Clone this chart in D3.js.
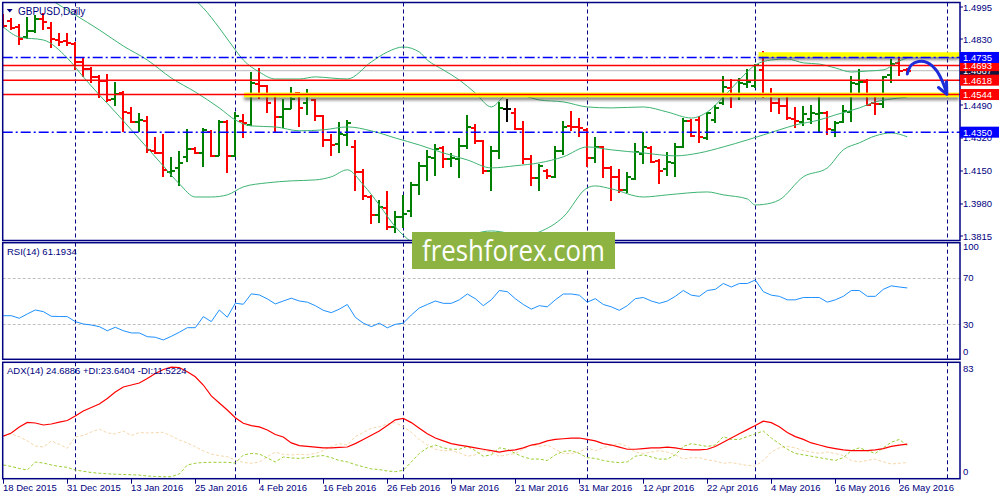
<!DOCTYPE html>
<html><head><meta charset="utf-8">
<script src="https://cdn.jsdelivr.net/npm/d3@7"></script>
<style>
html,body{margin:0;padding:0;background:#fff;}
svg{display:block;font-family:"Liberation Sans",Arial,sans-serif;}
</style></head><body>
<svg id="c" width="1000" height="500"></svg>
<script>
// ---------- DATA ----------
const symbolTitle = "GBPUSD,Daily";
const opens = [1.4928,1.4923,1.4892,1.4840,1.4871,1.4933,1.4887,1.4825,1.4820,1.4804,
1.4712,1.4676,1.4635,1.4614,1.4521,1.4552,1.4449,1.4403,1.4408,1.4254,
1.4243,1.4146,1.4166,1.4223,1.4264,1.4243,1.4351,1.4228,1.4403,1.4228,
1.4408,1.4387,1.4598,1.4588,1.4542,1.4429,1.4470,1.4552,1.4501,1.4516,
1.4434,1.4310,1.4290,1.4336,1.4274,1.4146,1.4016,1.3924,1.3960,1.3862,
1.3913,1.3944,1.4079,1.4177,1.4218,1.4269,1.4213,1.4213,1.4279,1.4372,
1.4305,1.4151,1.4254,1.4470,1.4449,1.4367,1.4213,1.4115,1.4151,1.4120,
1.4254,1.4382,1.4377,1.4362,1.4218,1.4274,1.4166,1.4120,1.4053,1.4110,
1.4238,1.4269,1.4202,1.4161,1.4192,1.4274,1.4408,1.4413,1.4320,1.4413,
1.4501,1.4578,1.4542,1.4598,1.4588,1.4671,1.4542,1.4501,1.4485,1.4418,
1.4403,1.4418,1.4444,1.4449,1.4362,1.4403,1.4454,1.4598,1.4609,1.4501,
1.4495,1.4645,1.4707,1.4671];
const highs = [1.4954,1.4938,1.4907,1.4943,1.4949,1.4964,1.4913,1.4856,1.4856,1.4810,
1.4732,1.4681,1.4640,1.4645,1.4604,1.4562,1.4475,1.4444,1.4429,1.4320,
1.4336,1.4218,1.4249,1.4362,1.4269,1.4367,1.4357,1.4408,1.4408,1.4449,
1.4439,1.4655,1.4676,1.4593,1.4547,1.4516,1.4578,1.4557,1.4568,1.4516,
1.4434,1.4336,1.4398,1.4408,1.4305,1.4156,1.4022,1.3996,1.4042,1.3939,
1.4022,1.4089,1.4192,1.4254,1.4284,1.4274,1.4238,1.4315,1.4434,1.4387,
1.4305,1.4274,1.4501,1.4516,1.4470,1.4403,1.4228,1.4182,1.4156,1.4274,
1.4403,1.4454,1.4423,1.4367,1.4320,1.4274,1.4171,1.4156,1.4141,1.4290,
1.4346,1.4274,1.4207,1.4243,1.4290,1.4418,1.4413,1.4429,1.4449,1.4490,
1.4635,1.4619,1.4624,1.4671,1.4701,1.4768,1.4573,1.4526,1.4542,1.4475,
1.4480,1.4485,1.4531,1.4454,1.4403,1.4490,1.4635,1.4671,1.4619,1.4542,
1.4635,1.4727,1.4743,1.4676];
const lows = [1.4887,1.4877,1.4804,1.4835,1.4866,1.4877,1.4784,1.4799,1.4799,1.4671,
1.4635,1.4604,1.4531,1.4506,1.4490,1.4351,1.4398,1.4351,1.4243,1.4238,
1.4120,1.4120,1.4073,1.4197,1.4238,1.4171,1.4223,1.4228,1.4141,1.4223,
1.4320,1.4382,1.4526,1.4449,1.4351,1.4372,1.4470,1.4377,1.4439,1.4408,
1.4274,1.4228,1.4243,1.4279,1.4047,1.4001,1.3877,1.3882,1.3847,1.3831,
1.3857,1.3913,1.4027,1.4099,1.4125,1.4166,1.4171,1.4115,1.4264,1.4290,
1.4135,1.4047,1.4213,1.4403,1.4362,1.4187,1.4073,1.4047,1.4110,1.4115,
1.4233,1.4357,1.4326,1.4171,1.4192,1.4115,1.3996,1.4037,1.4037,1.4104,
1.4187,1.4192,1.4084,1.4125,1.4120,1.4269,1.4326,1.4295,1.4310,1.4398,
1.4495,1.4475,1.4516,1.4578,1.4578,1.4531,1.4454,1.4444,1.4413,1.4372,
1.4382,1.4393,1.4346,1.4336,1.4326,1.4398,1.4403,1.4557,1.4485,1.4439,
1.4475,1.4604,1.4640,1.4660];
const closes = [1.4897,1.4887,1.4830,1.4871,1.4933,1.4918,1.4830,1.4815,1.4810,1.4712,
1.4676,1.4635,1.4614,1.4516,1.4547,1.4454,1.4403,1.4413,1.4259,1.4243,
1.4156,1.4151,1.4192,1.4264,1.4243,1.4362,1.4228,1.4403,1.4228,1.4434,
1.4398,1.4604,1.4588,1.4501,1.4429,1.4470,1.4521,1.4475,1.4547,1.4434,
1.4310,1.4284,1.4341,1.4398,1.4146,1.4022,1.3924,1.3965,1.3862,1.3913,
1.3929,1.4079,1.4177,1.4223,1.4264,1.4213,1.4218,1.4279,1.4377,1.4305,
1.4151,1.4254,1.4475,1.4470,1.4367,1.4213,1.4115,1.4177,1.4125,1.4254,
1.4377,1.4377,1.4372,1.4218,1.4274,1.4166,1.4120,1.4053,1.4120,1.4249,
1.4274,1.4197,1.4151,1.4197,1.4274,1.4408,1.4331,1.4326,1.4449,1.4475,
1.4583,1.4542,1.4604,1.4609,1.4696,1.4537,1.4501,1.4485,1.4423,1.4408,
1.4444,1.4449,1.4449,1.4367,1.4398,1.4459,1.4604,1.4609,1.4490,1.4495,
1.4635,1.4701,1.4665,1.4667];

// Bollinger bands: [bar index, price]
const bbUpper = [[22,1.5134],[24,1.5031],[25,1.4990],[27,1.4887],[29,1.4774],[30,1.4722],[32,1.4660],[34,1.4624],[37,1.4624],[39,1.4635],[41,1.4629],[43,1.4624],[46,1.4712],[48,1.4763],[50,1.4789],[52,1.4763],[53,1.4722],[55,1.4671],[57,1.4619],[59,1.4552],[61,1.4480],[63,1.4542],[65,1.4537],[67,1.4516],[70,1.4506],[73,1.4480],[76,1.4475],[80,1.4480],[83,1.4454],[86,1.4423],[88,1.4454],[90,1.4531],[92,1.4619],[94,1.4696],[96,1.4722],[98,1.4727],[100,1.4707],[102,1.4701],[104,1.4681],[106,1.4660],[108,1.4665],[110,1.4671],[112,1.4717],[113,1.4732]];
const bbMiddle = [[4,1.5083],[6,1.5031],[9,1.4954],[12,1.4877],[15,1.4794],[18,1.4722],[21,1.4629],[24,1.4557],[27,1.4475],[29,1.4413],[31,1.4382],[34,1.4377],[37,1.4357],[40,1.4362],[43,1.4377],[46,1.4357],[49,1.4320],[52,1.4284],[55,1.4243],[58,1.4207],[61,1.4166],[64,1.4177],[67,1.4192],[70,1.4223],[73,1.4274],[76,1.4259],[80,1.4243],[84,1.4228],[87,1.4243],[90,1.4274],[93,1.4310],[95,1.4336],[97,1.4362],[99,1.4387],[102,1.4413],[104,1.4439],[107,1.4475],[109,1.4506],[111,1.4521],[113,1.4531]];
const bbLower = [[0,1.4892],[2,1.4840],[5,1.4825],[8,1.4732],[10,1.4635],[12,1.4542],[14,1.4454],[16,1.4362],[18,1.4269],[20,1.4176],[22,1.4084],[24,1.4016],[26,1.4016],[28,1.4027],[30,1.4068],[33,1.4089],[36,1.4099],[39,1.4104],[41,1.4120],[43,1.4156],[45,1.4079],[47,1.3975],[49,1.3862],[51,1.3785],[54,1.3733],[57,1.3780],[59,1.3826],[61,1.3841],[63,1.3831],[65,1.3816],[67,1.3836],[70,1.3913],[73,1.4063],[74,1.4073],[76,1.4058],[80,1.4016],[83,1.4027],[88,1.4042],[90,1.4027],[93,1.4006],[94,1.3975],[96,1.3985],[97,1.4001],[100,1.4120],[103,1.4166],[105,1.4259],[107,1.4295],[109,1.4331],[111,1.4346],[113,1.4326]];

const rsi = [37.4,37.4,35.2,38.9,42.3,40.9,36.9,36.7,36.6,32.3,30.3,29.4,28.0,24.5,27.5,24.5,22.6,22.6,19.4,18.9,
16.6,19.7,23.2,27.1,27.1,36.6,32.3,42.3,36.1,48.1,47.2,56.1,55.2,51.8,47.5,50.0,52.4,50.0,
49,46,42,40,43,47,36,31,28,31,27,30,31,38,44,47,50,48,48,51,56,52,46,51,59,58,52,47,43,46,
45,51,56,56,55,49,52,47,45,42,46,52,53,50,48,50,54,59,55,54,59,60,65,62,65,65,68,58,55,54,
51,51,53,53,53,49,51,54,59,59,54,54,60,63,62,61.19];
const adx = [30.4,32.6,36.9,40.1,39.7,38.3,39.0,40.4,41.5,44.7,48.3,50.8,53.3,57.2,61.8,65.4,66.8,68.2,71.4,75.0,
77.9,79.6,79.3,76.3,72.7,66.8,59.0,54.0,49.0,43.5,39.5,37.9,36.9,34.7,31.5,29.7,25.5,23.6,
23,22.5,22,22,22.3,22.6,25,28,31,34,38,42,43,40,36,32,29,27,25,24,
23,22,21,20,19,20,20.5,22,24,25,27,28,28.5,29,29,28,27,25,24,22.5,
21,21,21.5,22,22,22.5,22,21,20.5,20.5,21,23,26,29,32,35,38,41,40,37,
33,30,28,25.5,24,22.5,21.5,20.5,20,20,20,20.5,21.5,23,24,24.69];
const plusDI = [9.8,8.7,7.3,6.2,11.9,11.2,9.8,8.7,8.1,6.2,5.3,4.4,3.9,3.5,3.2,3.0,2.8,2.6,1.9,1.6,
1.4,1.4,3.4,9.8,11.0,11.6,11.7,11.7,11.7,11.2,16.9,18.0,17.6,14.8,11.9,15.5,14.8,14.5,
15,16,16.5,15,13,12,10,8.5,7,6.5,5.5,5,6,12,18,22,24,22,21,21,
23,20,16,17,22,21,18,15.5,14,14,13,17,19.5,20,18,15,14.5,13,12,11.5,
12,16,17,15.5,14,14,17,23,25,24,23,24,30,28,28,30,32,34,29,25,
21,18,17,16,15,14,13,15,20,22,20,18,22,26,28,23.64];
const minusDI = [30.4,31.9,29.9,26.9,23.3,22.6,26.9,24.5,21.7,29.9,30.8,33.3,35.4,32.6,31.9,34.0,30.8,32.9,32.6,32.8,
33.1,30.4,27.6,25.5,22.8,19.8,17.6,16.4,15.7,13.3,11.6,11.0,11.9,15.7,19.0,17.3,16.9,17.4,
17,18,20,23,25,24,30,33,36,37,39,40,37,33,28,24,21,20,20,18.5,
16,17,20,19,16,17,18,21,24,23,24,21,18,18,19,22,20,22,24,25,
23,19,18,19,20,19,17,14,15,15,13.5,12.5,11,11.5,10.5,9.5,9,13,19,22,
23,22,20,19,18,19,18,16.5,13,12,13,14,12,10.5,11,11.52];

const dateTickIdx = [0,8,16,24,32,40,48,56,64,72,80,88,96,104,112];
const dateTickLabels = ["18 Dec 2015","31 Dec 2015","13 Jan 2016","25 Jan 2016","4 Feb 2016","16 Feb 2016","26 Feb 2016","9 Mar 2016","21 Mar 2016","31 Mar 2016","12 Apr 2016","22 Apr 2016","4 May 2016","16 May 2016","26 May 2016"];
const separatorIdx = [9,29,50,73,94,118];
const priceTicks = [1.4995,1.4830,1.4490,1.4320,1.4150,1.3980,1.3815];
const rsiTicks = [100,70,30,0];
const rsiLevels = [70,30];
const adxTicks = [83,0];
const redLevels = [1.4693,1.4618,1.4544];
const blueLevels = [1.4735,1.4350];
const bidPrice = 1.4667;
const yellowStart = [94.4,30.1];
const yellowPrice = [1.4750,1.4542];
const arrowPts = [[113.0,1.4650],[113.5,1.4696],[114.4,1.4714],[115.5,1.4708],[116.6,1.4670],[117.4,1.4610],[117.9,1.4552]];
const arrowHead = [[116.9,1.4580],[117.95,1.4545],[117.9,1.4610]];
const rsiLabel = "RSI(14) 61.1934";
const adxLabel = "ADX(14) 24.6886 +DI:23.6404 -DI:11.5224";
const logoText = "freshforex.com";

// ---------- LAYOUT ----------
const NAVY = "#000080";
const P = {x0:2.7, x1:960};
const mainP = {y0:2.5, y1:240.5};
const rsiP = {y0:242.7, y1:359.3};
const adxP = {y0:362.3, y1:478.7};

const svg = d3.select("#c");
const x = d3.scaleLinear().domain([0,118]).range([3.3,947.3]);
const y = d3.scaleLinear().domain([1.3815,1.4995]).range([236,7]);
const yR = d3.scaleLinear().domain([0,100]).range([rsiP.y1, rsiP.y0]);
const yA = d3.scaleLinear().domain([0,83]).range([adxP.y1, adxP.y0]);

const defs = svg.append("defs");
[["cm",mainP],["cr",rsiP],["ca",adxP]].forEach(([id,p])=>{
  defs.append("clipPath").attr("id",id).append("rect")
    .attr("x",P.x0).attr("y",p.y0).attr("width",P.x1-P.x0).attr("height",p.y1-p.y0);
});
const flt = defs.append("filter").attr("id","sh").attr("filterUnits","userSpaceOnUse")
  .attr("x",0).attr("y",0).attr("width",1000).attr("height",260);
flt.append("feDropShadow").attr("dx",0).attr("dy",3).attr("stdDeviation",1.8).attr("flood-color","#444").attr("flood-opacity",0.65);

// separators
const sepG = svg.append("g");
[mainP,rsiP,adxP].forEach(p=>{
  sepG.selectAll(null).data(separatorIdx).join("line")
    .attr("x1",d=>Math.round(x(d))+0.5).attr("x2",d=>Math.round(x(d))+0.5)
    .attr("y1",p.y0).attr("y2",p.y1)
    .attr("stroke",NAVY).attr("stroke-width",1).attr("stroke-dasharray","4,3");
});

// ---------- MAIN ----------
const gm = svg.append("g").attr("clip-path","url(#cm)");
// bid line
gm.append("line").attr("x1",P.x0).attr("x2",P.x1).attr("y1",y(bidPrice)).attr("y2",y(bidPrice))
  .attr("stroke","#c8c8c8").attr("stroke-width",1.2);

// bars
const barCol = i => closes[i]>opens[i] ? "#008000" : (closes[i]<opens[i] ? "#ff0000" : "#000000");
const gb = gm.append("g").attr("shape-rendering","crispEdges");
closes.forEach((c,i)=>{
  const xi = Math.round(x(i));
  const col = barCol(i);
  gb.append("line").attr("x1",xi).attr("x2",xi).attr("y1",y(highs[i])-0.5).attr("y2",y(lows[i])+0.5)
    .attr("stroke",col).attr("stroke-width",2);
  gb.append("line").attr("x1",xi-4).attr("x2",xi).attr("y1",Math.round(y(opens[i]))).attr("y2",Math.round(y(opens[i])))
    .attr("stroke",col).attr("stroke-width",2);
  gb.append("line").attr("x1",xi).attr("x2",xi+4).attr("y1",Math.round(y(c))).attr("y2",Math.round(y(c)))
    .attr("stroke",col).attr("stroke-width",2);
});

// bollinger
const bbLine = d3.line().x(d=>x(d[0])).y(d=>y(d[1])).curve(d3.curveMonotoneX);
[bbUpper,bbMiddle,bbLower].forEach(b=>{
  gm.append("path").attr("d",bbLine(b)).attr("fill","none").attr("stroke","#3cb371").attr("stroke-width",1);
});

// yellow highlight zones (rectangles with shadow)
yellowStart.forEach((s,k)=>{
  gm.append("rect").attr("x",x(s)).attr("width",P.x1-1-x(s))
    .attr("y",y(yellowPrice[k])-2.3).attr("height",4.6)
    .attr("fill","#ffff00").attr("filter","url(#sh)");
});

// horizontal levels
redLevels.forEach(p=>{
  gm.append("line").attr("x1",P.x0).attr("x2",P.x1).attr("y1",y(p)).attr("y2",y(p))
    .attr("stroke","#ff0000").attr("stroke-width",1.5);
});
blueLevels.forEach(p=>{
  gm.append("line").attr("x1",P.x0).attr("x2",P.x1).attr("y1",y(p)).attr("y2",y(p))
    .attr("stroke","#0000ff").attr("stroke-width",1.5).attr("stroke-dasharray","10,3,2,3");
});

// arrow
const arrLine = d3.line().x(d=>x(d[0])).y(d=>y(d[1])).curve(d3.curveCatmullRom);
gm.append("path").attr("d",arrLine(arrowPts)).attr("fill","none").attr("stroke","#1e2bd8")
  .attr("stroke-width",3).attr("stroke-linecap","round");
gm.append("path").attr("d",d3.line().x(d=>x(d[0])).y(d=>y(d[1]))(arrowHead)).attr("fill","none")
  .attr("stroke","#1e2bd8").attr("stroke-width",3).attr("stroke-linecap","round").attr("stroke-linejoin","round");

// title
svg.append("path").attr("d",`M${P.x0+4},9 L${P.x0+10},9 L${P.x0+7},12.5 Z`).attr("fill",NAVY);
svg.append("text").attr("x",18).attr("y",14.5).attr("font-size",10).attr("fill",NAVY).text(symbolTitle);

// ---------- RSI ----------
const gr = svg.append("g").attr("clip-path","url(#cr)");
rsiLevels.forEach(v=>{
  gr.append("line").attr("x1",P.x0).attr("x2",P.x1).attr("y1",Math.round(yR(v))+0.5).attr("y2",Math.round(yR(v))+0.5)
    .attr("stroke","#c0c0c0").attr("stroke-dasharray","3,2");
});
gr.append("path").attr("d",d3.line().x((d,i)=>x(i)).y(d=>yR(d))(rsi)).attr("fill","none")
  .attr("stroke","#1e90ff").attr("stroke-width",1);
svg.append("text").attr("x",7).attr("y",rsiP.y0+12).attr("font-size",9.5).attr("fill",NAVY).text(rsiLabel);

// ---------- ADX ----------
const ga = svg.append("g").attr("clip-path","url(#ca)");
ga.append("path").attr("d",d3.line().x((d,i)=>x(i)).y(d=>yA(d))(minusDI)).attr("fill","none")
  .attr("stroke","#f5d7ab").attr("stroke-width",1).attr("stroke-dasharray","3,2");
ga.append("path").attr("d",d3.line().x((d,i)=>x(i)).y(d=>yA(d))(plusDI)).attr("fill","none")
  .attr("stroke","#9acd32").attr("stroke-width",1).attr("stroke-dasharray","3,2");
ga.append("path").attr("d",d3.line().x((d,i)=>x(i)).y(d=>yA(d))(adx)).attr("fill","none")
  .attr("stroke","#ff0000").attr("stroke-width",1.2);
svg.append("text").attr("x",7).attr("y",adxP.y0+12).attr("font-size",9.5).attr("fill",NAVY).text(adxLabel);

// ---------- FRAMES ----------
[mainP,rsiP,adxP].forEach(p=>{
  svg.append("rect").attr("x",P.x0).attr("y",p.y0).attr("width",P.x1-P.x0).attr("height",p.y1-p.y0)
    .attr("fill","none").attr("stroke",NAVY).attr("stroke-width",1.5);
});

// ---------- AXES ----------
const axG = svg.append("g").attr("font-size",9.5).attr("fill",NAVY);
priceTicks.forEach(p=>{
  axG.append("line").attr("x1",P.x1).attr("x2",P.x1+3).attr("y1",y(p)).attr("y2",y(p)).attr("stroke",NAVY);
  axG.append("text").attr("x",P.x1+3).attr("y",y(p)+3.5).text(p.toFixed(4));
});
// price boxes
const box = (p,bg,h)=>{
  const g = svg.append("g");
  g.append("rect").attr("x",P.x1).attr("y",y(p)-h/2).attr("width",39).attr("height",h).attr("fill",bg);
  g.append("text").attr("x",P.x1+3).attr("y",y(p)+3.5).attr("font-size",9.5).attr("fill","#fff").text(p.toFixed(4));
};
box(bidPrice,"#14143c",9);
redLevels.forEach(p=>box(p,"#ff0000",11));
blueLevels.forEach(p=>box(p,"#0000ff",11));

rsiTicks.forEach(v=>{
  const yy = v===100 ? yR(v)+7 : (v===0 ? yR(v)-4 : yR(v)+3.5);
  axG.append("text").attr("x",P.x1+3).attr("y",yy).text(v);
});
adxTicks.forEach(v=>{
  const yy = v===83 ? yA(v)+10 : yA(v)-4;
  axG.append("text").attr("x",P.x1+3).attr("y",yy).text(v);
});
dateTickIdx.forEach((d,k)=>{
  const xi = Math.round(x(d))+0.5;
  axG.append("line").attr("x1",xi).attr("x2",xi).attr("y1",adxP.y1).attr("y2",adxP.y1+5).attr("stroke",NAVY);
  axG.append("text").attr("x",xi-0.5).attr("y",491).text(dateTickLabels[k]);
});

// ---------- LOGO ----------
const lg = svg.append("g");
lg.append("rect").attr("x",412).attr("y",232).attr("width",203).attr("height",37).attr("fill","#8db443");
lg.append("text").attr("x",422).attr("y",261).attr("font-family","'Open Sans',sans-serif").attr("font-size",30)
  .attr("fill","#fff").attr("textLength",183).attr("lengthAdjust","spacingAndGlyphs").text(logoText);
</script>
</body></html>
